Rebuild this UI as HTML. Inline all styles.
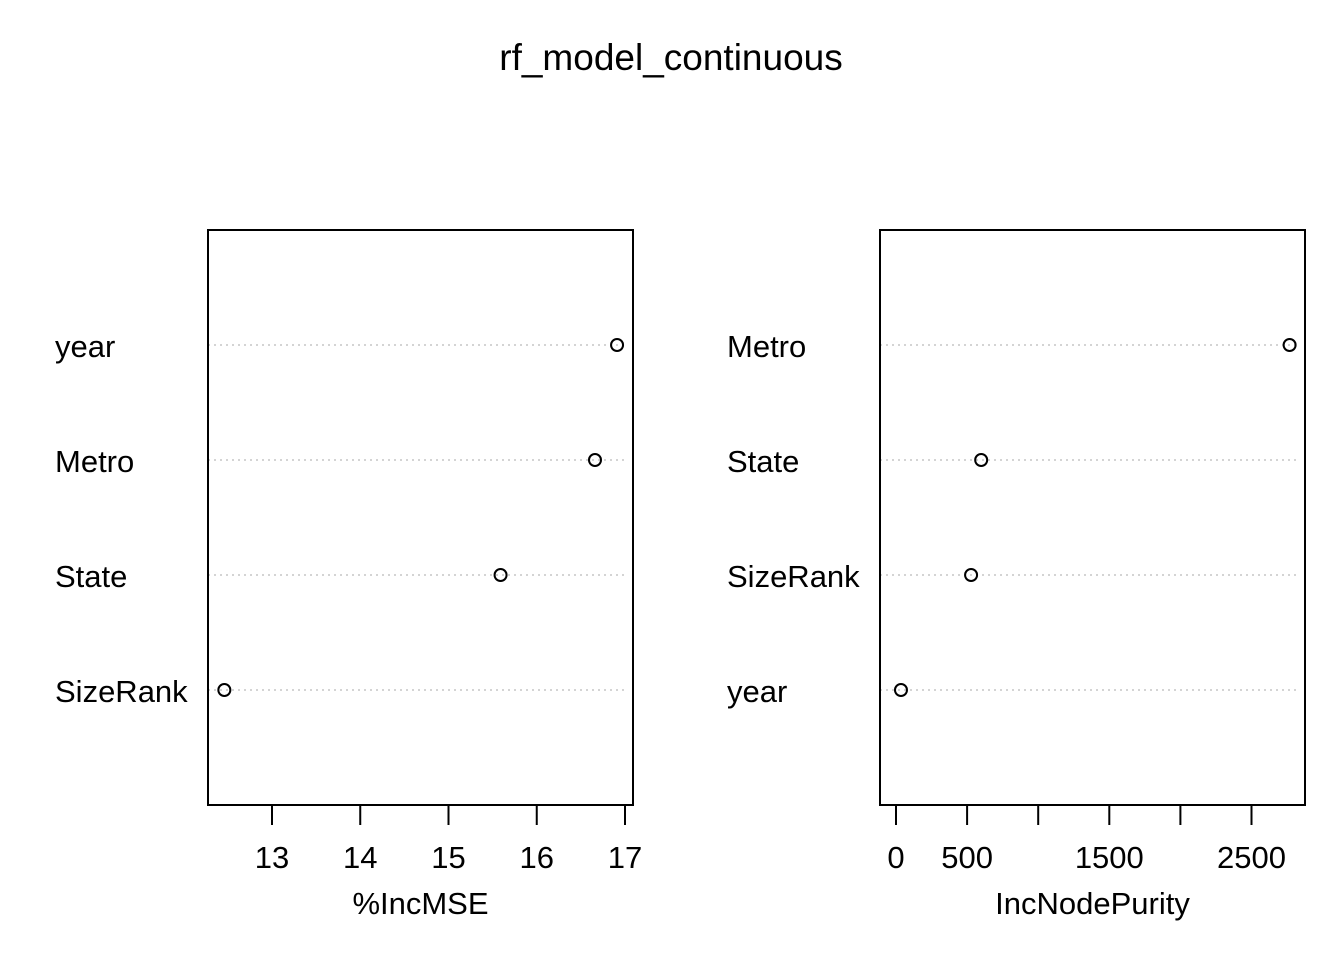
<!DOCTYPE html>
<html><head><meta charset="utf-8"><style>
body{margin:0;background:#fff}
text{font-family:"Liberation Sans",Arial,sans-serif;fill:#000}
</style></head><body>
<svg id="c" width="1344" height="960" xmlns="http://www.w3.org/2000/svg">
<rect width="1344" height="960" fill="#fff"/>
<text x="671" y="70" font-size="37" text-anchor="middle">rf_model_continuous</text>
</svg>
<script>
const leftLabels=["year","Metro","State","SizeRank"];
const leftValues=[16.91,16.66,15.59,12.46];
const leftTicks=[13,14,15,16,17];
const leftTickLabels=["13","14","15","16","17"];
const rightLabels=["Metro","State","SizeRank","year"];
const rightValues=[2768,599,528,35];
const rightTicks=[0,500,1000,1500,2000,2500];
const rightTickLabels=["0","500","","1500","","2500"];
const NS="http://www.w3.org/2000/svg";
const svg=document.getElementById('c');
function mk(t,a,p){const e=document.createElementNS(NS,t);for(const k in a)e.setAttribute(k,a[k]);(p||svg).appendChild(e);return e;}
const rowsY=[345,460,575,690];
function panel(name,box,xf,labels,values,ticks,tlabels,xtitle,labelX){
  const g=mk('g',{});
  
  
  labels.forEach((l,i)=>{
    const y=rowsY[i];
    const ln=mk('line',{x1:box[0],x2:box[1]-6,y1:y,y2:y,stroke:'#bbb','stroke-width':1.3,'stroke-dasharray':'2,4'},g);
    
    
    const t=mk('text',{x:labelX,y:y+12,'font-size':31},g);t.textContent=l;
    
    
    const c=mk('circle',{cx:xf(values[i]),cy:y,r:6,fill:'none',stroke:'#000','stroke-width':2},g);
    
    
  });
  const r=mk('rect',{x:box[0],y:230,width:box[1]-box[0],height:575,fill:'none',stroke:'#000','stroke-width':2},g);
  
  
  ticks.forEach((v,i)=>{
    const x=xf(v);
    const tk=mk('line',{x1:x,x2:x,y1:805,y2:825,stroke:'#000','stroke-width':2},g);
    
    
    if(tlabels[i]){const t=mk('text',{x:x,y:868,'font-size':31,'text-anchor':'middle'},g);t.textContent=tlabels[i];
      
      }
  });
  const xt=mk('text',{x:(box[0]+box[1])/2,y:914,'font-size':31,'text-anchor':'middle'},g);xt.textContent=xtitle;
  
  
}
panel('incmse',[208,633],v=>272+(v-13)*88.25,leftLabels,leftValues,leftTicks,leftTickLabels,'%IncMSE',55);
panel('incnodepurity',[880,1305],v=>896+v*0.1422,rightLabels,rightValues,rightTicks,rightTickLabels,'IncNodePurity',727);
</script>
</body></html>
